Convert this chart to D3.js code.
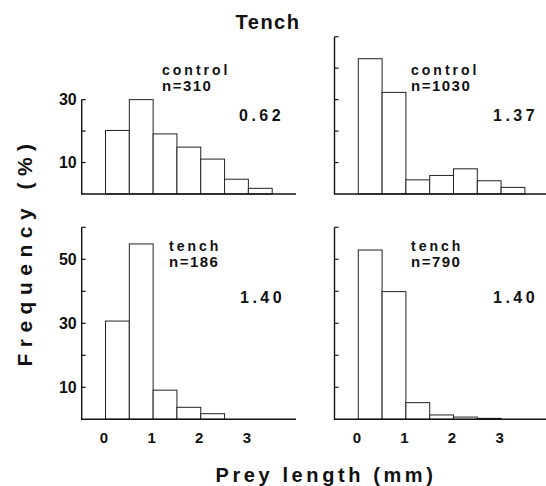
<!DOCTYPE html>
<html>
<head>
<meta charset="utf-8">
<script src="https://cdn.jsdelivr.net/npm/d3@7"></script>
<style>
body { margin: 0; background: #fff; }
text { font-family: "Liberation Sans", Arial, sans-serif; font-weight: bold; fill: #111; }
</style>
</head>
<body>
<script>
// bin starts in mm (0.5 mm bins), frequencies in %
var binStarts = [0, 0.5, 1, 1.5, 2, 2.5, 3];
var controlSmall = [20.2, 30, 19.1, 14.9, 11.1, 4.7, 1.8];
var controlLarge = [43, 32.3, 4.5, 5.9, 8.0, 4.2, 2.1];
var tenchSmall = [30.7, 54.8, 9.1, 3.75, 1.75];
var tenchLarge = [52.9, 39.9, 5.2, 1.35, 0.7, 0, 0.3];
var groupNames = ["control", "control", "tench", "tench"];
var sampleSizes = ["n=310", "n=1030", "n=186", "n=790"];
var panelValues = ["0.62", "1.37", "1.40", "1.40"];
var xTickValues = [0, 1, 2, 3];

var W = 546, H = 486, binWidth = 0.5;

var svg = d3.select("body").append("svg").attr("width", W).attr("height", H);

var xLeft = d3.scaleLinear().domain([-0.5, 4]).range([81.7, 296]);
var xRight = d3.scaleLinear().domain([-0.5, 4]).range([334.5, 548.7]);
var yTop = d3.scaleLinear().domain([0, 50]).range([194, 36.7]);
var yBottom = d3.scaleLinear().domain([0, 60]).range([419.3, 227.3]);

var panels = [
  { data: controlSmall, x: xLeft, y: yTop, top: 30, ticks: [10, 20, 30], labelled: [10, 30], tx: 162, ty: 75, vx: 239, vy: 121 },
  { data: controlLarge, x: xRight, y: yTop, top: 50, ticks: [10, 20, 30, 40, 50], labelled: [], tx: 411, ty: 75, vx: 493, vy: 121 },
  { data: tenchSmall, x: xLeft, y: yBottom, top: 60, ticks: [10, 20, 30, 40, 50, 60], labelled: [10, 30, 50], tx: 169, ty: 251, vx: 240, vy: 303 },
  { data: tenchLarge, x: xRight, y: yBottom, top: 60, ticks: [10, 20, 30, 40, 50, 60], labelled: [], tx: 411, ty: 251, vx: 493, vy: 303 }
];

panels.forEach(function (p, i) {
  var g = svg.append("g");
  var x0 = p.x.range()[0], x1 = p.x.range()[1];

  // bars
  g.selectAll("rect")
    .data(p.data)
    .enter().append("rect")
    .filter(function (d) { return d > 0; })
    .attr("x", function (d, j) { return p.x(binStarts[j]); })
    .attr("width", function (d, j) { return p.x(binStarts[j] + binWidth) - p.x(binStarts[j]); })
    .attr("y", function (d) { return p.y(d); })
    .attr("height", function (d) { return p.y(0) - p.y(d); })
    .attr("fill", "#fff")
    .attr("stroke", "#222")
    .attr("stroke-width", 1);

  // axis frame
  g.append("path")
    .attr("d", "M" + x0 + "," + p.y(p.top) + "V" + p.y(0) + "H" + x1)
    .attr("fill", "none")
    .attr("stroke", "#111")
    .attr("stroke-width", 1.4);

  // inward ticks
  g.selectAll("line.tick")
    .data(p.ticks)
    .enter().append("line")
    .attr("class", "tick")
    .attr("x1", x0).attr("x2", x0 + 4)
    .attr("y1", function (d) { return p.y(d); })
    .attr("y2", function (d) { return p.y(d); })
    .attr("stroke", "#111")
    .attr("stroke-width", 1.2);

  g.selectAll("text.ylab")
    .data(p.labelled)
    .enter().append("text")
    .attr("class", "ylab")
    .attr("x", x0 - 5)
    .attr("y", function (d) { return p.y(d); })
    .attr("dy", "0.36em")
    .attr("text-anchor", "end")
    .attr("font-size", 16)
    .text(function (d) { return d; });

  // annotations
  g.append("text")
    .attr("x", p.tx).attr("y", p.ty)
    .attr("font-size", 14)
    .attr("letter-spacing", 3)
    .text(groupNames[i]);
  g.append("text")
    .attr("x", p.tx).attr("y", p.ty + 16)
    .attr("font-size", 15)
    .attr("letter-spacing", 1.5)
    .text(sampleSizes[i]);
  g.append("text")
    .attr("x", p.vx).attr("y", p.vy)
    .attr("font-size", 16)
    .attr("letter-spacing", 3.5)
    .text(panelValues[i]);
});

// x tick labels under bottom panels
[xLeft, xRight].forEach(function (x) {
  svg.append("g").selectAll("text")
    .data(xTickValues)
    .enter().append("text")
    .attr("x", function (d) { return x(d) - 1.5; })
    .attr("y", 443)
    .attr("text-anchor", "middle")
    .attr("font-size", 15)
    .text(function (d) { return d; });
});

svg.append("text")
  .attr("x", 268).attr("y", 29)
  .attr("text-anchor", "middle")
  .attr("font-size", 20)
  .attr("letter-spacing", 1.5)
  .text("Tench");

svg.append("text")
  .attr("x", 326).attr("y", 482)
  .attr("text-anchor", "middle")
  .attr("font-size", 20)
  .attr("letter-spacing", 3.6)
  .text("Prey length (mm)");

svg.append("text")
  .attr("transform", "translate(32,252) rotate(-90)")
  .attr("text-anchor", "middle")
  .attr("font-size", 21)
  .attr("letter-spacing", 6.5)
  .text("Frequency (%)");
</script>
</body>
</html>
